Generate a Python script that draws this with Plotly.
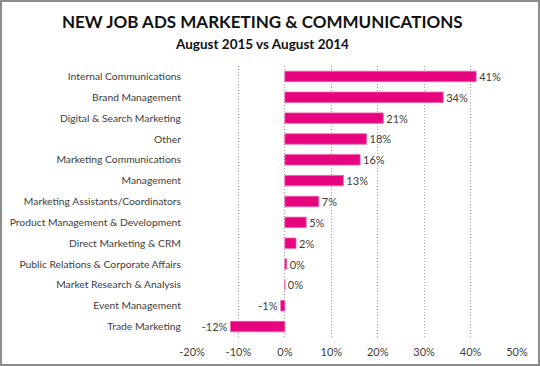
import plotly.graph_objects as go

categories = [
    "Internal Communications", "Brand Management", "Digital & Search Marketing",
    "Other", "Marketing Communications", "Management",
    "Marketing Assistants/Coordinators", "Product Management & Development",
    "Direct Marketing & CRM", "Public Relations & Corporate Affairs",
    "Market Research & Analysis", "Event Management", "Trade Marketing",
]
values = [0.412, 0.341, 0.212, 0.176, 0.162, 0.126, 0.073, 0.046, 0.024,
          0.004, 0.0, -0.009, -0.117]
bar_labels = ["41%", "34%", "21%", "18%", "16%", "13%", "7%", "5%", "2%",
              "0%", "0%", "-1%", "-12%"]
tick_vals = [-0.2, -0.1, 0.0, 0.1, 0.2, 0.3, 0.4, 0.5]
tick_text = ["-20%", "-10%", "0%", "10%", "20%", "30%", "40%", "50%"]

W, H = 540, 366
L, R, T, B = 192, 23, 66, 29
pw, ph = W - L - R, H - T - B

FONT = "Lato, Open Sans, sans-serif"

fig = go.Figure(go.Bar(
    y=categories, x=values, orientation="h",
    marker=dict(color="#E6047F", line=dict(color="#F060A8", width=0.8)),
    width=0.5,
    text=bar_labels, texttemplate="%{text}",
    textposition="outside", constraintext="none",
    textfont=dict(family=FONT, size=11, color="#404040"),
    cliponaxis=False,
))

fig.update_layout(
    width=W, height=H,
    margin=dict(l=L, r=R, t=T, b=B, autoexpand=False),
    paper_bgcolor="white", plot_bgcolor="white",
    showlegend=False,
    font=dict(family=FONT, size=11, color="#404040"),
    xaxis=dict(range=[-0.2, 0.5], tickvals=tick_vals, ticktext=tick_text,
               showgrid=True, gridcolor="#a0a0a0", griddash="1px,2px", gridwidth=1,
               zeroline=False, showline=False,
               ticks="outside", ticklen=5, tickcolor="rgba(0,0,0,0)",
               tickfont=dict(family=FONT, size=11, color="#404040")),
    yaxis=dict(autorange=False, range=[len(categories) - 0.5, -0.5],
               showgrid=False, zeroline=False, showline=False,
               ticks="outside", ticklen=8, tickcolor="rgba(0,0,0,0)",
               tickfont=dict(family=FONT, size=10.3, color="#404040")),
    annotations=[
        dict(text="<b>NEW JOB ADS MARKETING &amp; COMMUNICATIONS</b>",
             xref="paper", yref="paper",
             x=(262 - L) / pw, y=(H - 22 - B) / ph,
             xanchor="center", yanchor="middle", showarrow=False,
             font=dict(family=FONT, size=17, color="#111111")),
        dict(text="<b>August 2015 vs August 2014</b>",
             xref="paper", yref="paper",
             x=(262 - L) / pw, y=(H - 44 - B) / ph,
             xanchor="center", yanchor="middle", showarrow=False,
             font=dict(family=FONT, size=13.5, color="#111111")),
    ],
    shapes=[dict(type="rect", xref="paper", yref="paper",
                 x0=(1 - L) / pw, x1=(W - 1 - L) / pw,
                 y0=(1 - B) / ph, y1=(H - 1 - B) / ph,
                 line=dict(color="#8c8c8c", width=2), layer="below")],
)

fig.write_html("out.html", config={"displayModeBar": False},
               post_script="document.body.style.margin='0';document.body.style.padding='0';")
